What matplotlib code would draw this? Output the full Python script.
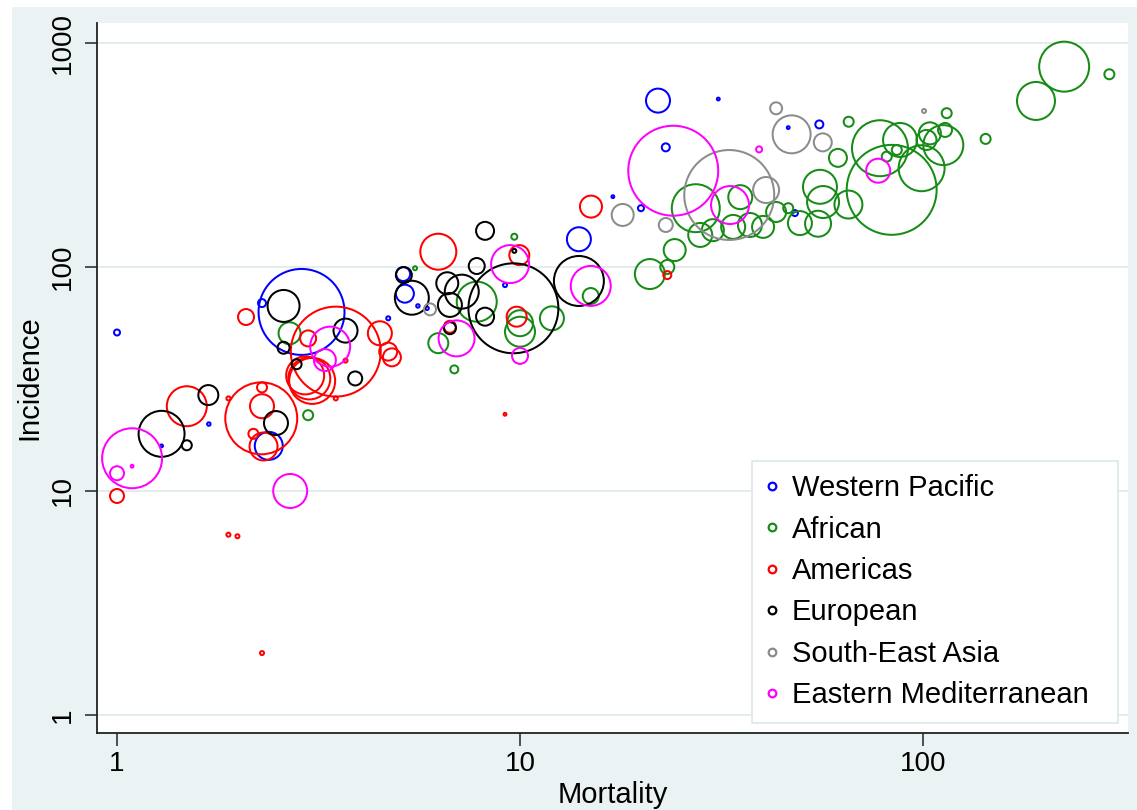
import numpy as np
import matplotlib
matplotlib.use("Agg")
import matplotlib.pyplot as plt
from matplotlib.patches import Rectangle
from matplotlib.lines import Line2D
from matplotlib.ticker import NullLocator

plt.rcParams['font.family'] = ['Liberation Sans', 'DejaVu Sans']

# TB mortality / incidence per 100,000 by WHO region, bubble weight per country

# Western Pacific
wp_mort = [1.0, 2.87, 2.29, 2.38, 5.13, 5.18, 9.18, 14.0, 22.0, 23.0, 19.96, 55.3, 48.1,
           31.05, 46.3, 17.0, 4.71, 1.69, 1.29, 5.58, 5.88]
wp_inc = [51, 63, 69, 15.9, 93, 76, 83, 133, 553, 342, 183, 433, 174,
          562, 419, 206, 59, 19.9, 15.9, 67, 65.4]
wp_wt = [9, 1850, 16, 196, 49, 81, 4, 144, 144, 16, 9, 16, 9,
         2, 2, 2, 4, 3, 2, 3, 3]

# African
af_mort = [2.68, 2.98, 5.49, 7.81, 6.27, 6.87, 9.68, 10.0, 10.0, 12.0, 14.98, 21.0, 23.2,
           24.2, 27.3, 28.0, 30.1, 33.8, 35.2, 37.2, 40.1, 43.2, 49.5, 54.9, 56.5, 55.5,
           61.5, 65.3, 65.4, 83.6, 78.2, 87.7, 99.2, 112.3, 104, 102, 113.4, 81.3, 86.1,
           114.5, 143, 190.7, 224, 290, 46.3]
af_inc = [50.6, 21.8, 98.7, 70, 45.7, 34.9, 136.5, 56.1, 51.4, 59, 74.2, 93, 100,
          119, 183, 139, 146, 151, 205, 154, 151, 176, 157, 156, 195, 228,
          307, 190, 445, 221, 339, 369, 276, 350, 395, 369, 409, 311, 333,
          486, 373, 551, 784, 725, 183]
af_wt = [121, 25, 4, 400, 100, 16, 9, 169, 225, 144, 64, 225, 49,
         121, 576, 144, 121, 144, 144, 144, 121, 100, 144, 169, 256, 289,
         81, 196, 25, 2025, 784, 289, 529, 400, 121, 100, 49, 25, 25,
         25, 25, 361, 625, 25, 25]

# Americas
am_mort = [1.0, 1.49, 1.89, 2.09, 2.28, 2.29, 2.29, 2.31, 2.18, 2.98, 3.49, 2.93, 3.0, 3.05,
           3.69, 3.49, 4.49, 4.71, 4.81, 6.27, 6.70, 9.81, 9.96, 15.0, 23.2, 1.89, 1.99,
           2.29, 9.18]
am_inc = [9.5, 23.9, 25.9, 59.8, 21.1, 29.0, 23.9, 15.8, 18.0, 48.0, 41.9, 32.8, 31.8, 31.0,
          38.2, 25.9, 50.6, 41.9, 39.5, 117, 54.1, 60, 113, 186, 92, 6.38, 6.28,
          1.89, 22.0]
am_wt = [49, 400, 4, 64, 1296, 25, 144, 196, 25, 64, 2025, 361, 441, 529,
         4, 4, 144, 81, 81, 324, 36, 100, 100, 121, 16, 4, 4,
         4, 2]

# European
eu_mort = [1.29, 1.49, 1.685, 2.48, 2.59, 2.59, 2.79, 3.69, 3.90, 5.15, 5.39, 6.60, 7.17,
           6.70, 8.19, 7.81, 6.70, 8.19, 9.68, 9.63, 14.0]
eu_inc = [18.0, 16.0, 26.8, 20.1, 67, 43.6, 36.8, 52.0, 31.8, 92, 72.9, 84.6, 77.6,
          67.7, 60, 101, 53.3, 145, 118, 65.4, 86.6]
eu_wt = [529, 25, 100, 144, 256, 36, 25, 144, 49, 64, 289, 121, 289,
         144, 81, 64, 36, 81, 4, 2025, 625]

# South-East Asia
sea_mort = [5.98, 17.98, 23.0, 33.05, 40.8, 43.2, 47.2, 56.4, 100.6]
sea_inc = [64.7, 170.7, 154, 209.6, 220.6, 511, 391, 360, 497]
sea_wt = [36, 121, 49, 2025, 169, 36, 361, 81, 4]

# Eastern Mediterranean
em_mort = [1.09, 1.0, 1.09, 2.69, 3.38, 3.28, 6.96, 9.45, 10.0, 14.98, 24.0, 33.2, 39.2, 77.4]
em_inc = [14.0, 12.0, 12.9, 10.0, 44.1, 38.4, 48.0, 103, 40.1, 82.3, 269, 189, 335, 269]
em_wt = [900, 49, 2, 289, 400, 121, 324, 361, 64, 400, 2025, 361, 9, 144]

region_names = ["Western Pacific", "African", "Americas", "European",
                "South-East Asia", "Eastern Mediterranean"]
region_colors = ["#0000ff", "#168c16", "#ff0000", "#000000", "#8c8c8c", "#ff00ff"]
region_data = [(wp_mort, wp_inc, wp_wt), (af_mort, af_inc, af_wt), (am_mort, am_inc, am_wt),
               (eu_mort, eu_inc, eu_wt), (sea_mort, sea_inc, sea_wt), (em_mort, em_inc, em_wt)]

bg = "#eaf2f4"
W, H = 1137, 810

fig = plt.figure(figsize=(W / 100, H / 100), dpi=100)
fig.patch.set_facecolor("white")
# light outer region behind the plot area
fig.patches.append(Rectangle((12 / W, 0), 1, 1 - 7 / H, transform=fig.transFigure,
                             facecolor=bg, edgecolor="none", zorder=-10))

ax = fig.add_axes([97 / W, 1 - 733 / H, (1128 - 97) / W, (733 - 23) / H])
ax.set_zorder(1)
ax.set_facecolor("white")
ax.set_xscale("log")
ax.set_yscale("log")
ax.set_xlim(0.892, 322.6)
ax.set_ylim(0.831, 1228)

# marker area proportional to weight (radius in px = sqrt(weight))
for (m, inc, wt), col in zip(region_data, region_colors):
    ax.scatter(m, inc, s=np.array(wt) * 2.07, facecolors="none", edgecolors=col,
               linewidths=1.45, zorder=3)

ax.set_xticks([1, 10, 100])
ax.set_xticklabels(["1", "10", "100"])
ax.set_yticks([1, 10, 100, 1000])
ax.set_yticklabels(["1", "10", "100", "1000"], rotation=90, va="center")
ax.xaxis.set_minor_locator(NullLocator())
ax.yaxis.set_minor_locator(NullLocator())
ax.tick_params(axis="both", direction="out", length=9, width=1.1, labelsize=20, color="#222222")
ax.tick_params(axis="x", pad=4)
ax.tick_params(axis="y", pad=6)

ax.yaxis.grid(True, color="#e1ecef", linewidth=1.3)
ax.set_axisbelow(True)
for side in ["top", "right"]:
    ax.spines[side].set_visible(False)
for side in ["left", "bottom"]:
    ax.spines[side].set_color("#222222")
    ax.spines[side].set_linewidth(1.3)

ax.set_xlabel("Mortality", fontsize=21, labelpad=3)
ax.set_ylabel("Incidence", fontsize=21, labelpad=5)

handles = [Line2D([], [], marker="o", linestyle="none", markerfacecolor="none",
                  markeredgecolor=c, markersize=5.5, markeredgewidth=1.6)
           for c in region_colors]
leg = ax.legend(handles, region_names, loc="lower left", mode="expand",
                bbox_to_anchor=(752 / W, 1 - 723 / H, 366 / W, 263 / H),
                bbox_transform=fig.transFigure,
                borderaxespad=0, fontsize=21, labelspacing=0.46, handlelength=0.4,
                handletextpad=0.5, borderpad=0.47, fancybox=False, framealpha=1,
                edgecolor="#dbe6e9")
leg.get_frame().set_linewidth(1.2)
leg.set_zorder(5)

fig.savefig("out.png", dpi=100, facecolor=fig.get_facecolor())
